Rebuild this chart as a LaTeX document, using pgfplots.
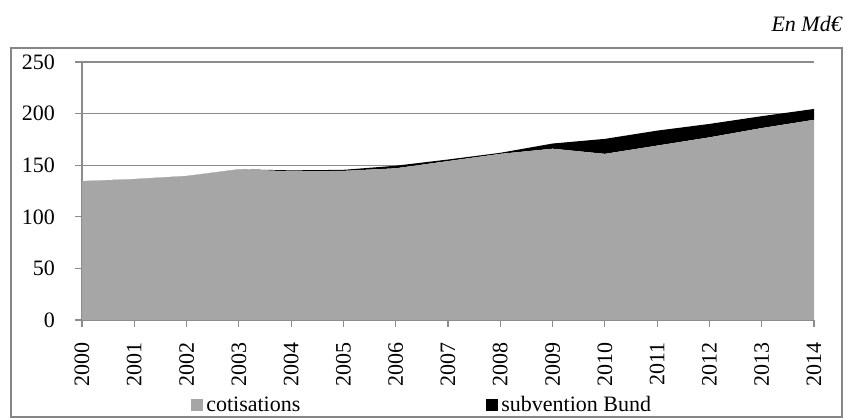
\documentclass[border=0pt]{standalone}
\usepackage{fontspec}
\setmainfont{Liberation Serif}
\usepackage{pgfplots}
\usepackage{pgfplotstable}
\pgfplotsset{compat=1.18}
\definecolor{cotis}{RGB}{166,166,166}
\definecolor{framegray}{RGB}{134,134,134}
\definecolor{gridgray}{RGB}{140,140,140}
\pgfplotstableread{
year cot sub
2000 134.5 0
2001 136.5 0
2002 139.5 0
2003 146 0
2004 144 1
2005 144.5 1
2006 147 2.5
2007 154 1.5
2008 161 1
2009 166 5
2010 161 14.5
2011 169 14.5
2012 177 13
2013 186 11.5
2014 194 10.5
}\data
\begin{document}
\begin{tikzpicture}[font=\fontsize{22bp}{26bp}\selectfont]
\useasboundingbox (0,0) rectangle (846bp,418bp);
\draw[framegray, line width=1.2bp] (11bp,1bp) rectangle (842bp,370bp);
\node[anchor=base east, font=\fontsize{22bp}{26bp}\selectfont\itshape, inner sep=0pt] at (842bp,386bp) {En Md€};
\begin{axis}[
  at={(82bp,98bp)}, anchor=south west,
  scale only axis, width=732bp, height=258bp,
  xmin=2000, xmax=2014, ymin=0, ymax=250,
  xtick={2000,2001,...,2014}, ytick={0,50,...,250},
  /pgf/number format/1000 sep={},
  /pgf/number format/assume math mode=true,
  tick label style={font=\fontsize{22bp}{26bp}\selectfont},
  xticklabel style={rotate=90, anchor=east, inner sep=0pt, xshift=-15bp},
  yticklabel style={anchor=east, inner sep=0pt, xshift=-20bp},
  axis x line*=bottom, axis y line*=left,
  axis line style={draw=gridgray, line width=1.2bp, -},
  tick style={draw=gridgray, line width=1.2bp},
  tick align=outside, major tick length=7bp,
  xtick pos=bottom, ytick pos=left,
  ymajorgrids, grid style={draw=gridgray, line width=1.2bp},
  stack plots=y,
  legend columns=2,
  legend style={at={(0.149,-0.3605)}, anchor=south west, draw=none, fill=none, inner sep=0pt,
    nodes={inner sep=0pt, anchor=base west},
    font=\fontsize{22bp}{26bp}\selectfont,
    /tikz/every odd column/.append style={column sep=3bp},
    /tikz/every even column/.append style={column sep=186bp}},
  legend image code/.code={\fill[#1] (0bp,0bp) rectangle (12bp,12bp);},
]
\addplot[fill=cotis, draw=none] table[x=year, y=cot] {\data} \closedcycle;
\addlegendentry{cotisations}
\addplot[fill=black, draw=none] table[x=year, y=sub] {\data} \closedcycle;
\addlegendentry{subvention Bund}
\end{axis}
\end{tikzpicture}
\end{document}
